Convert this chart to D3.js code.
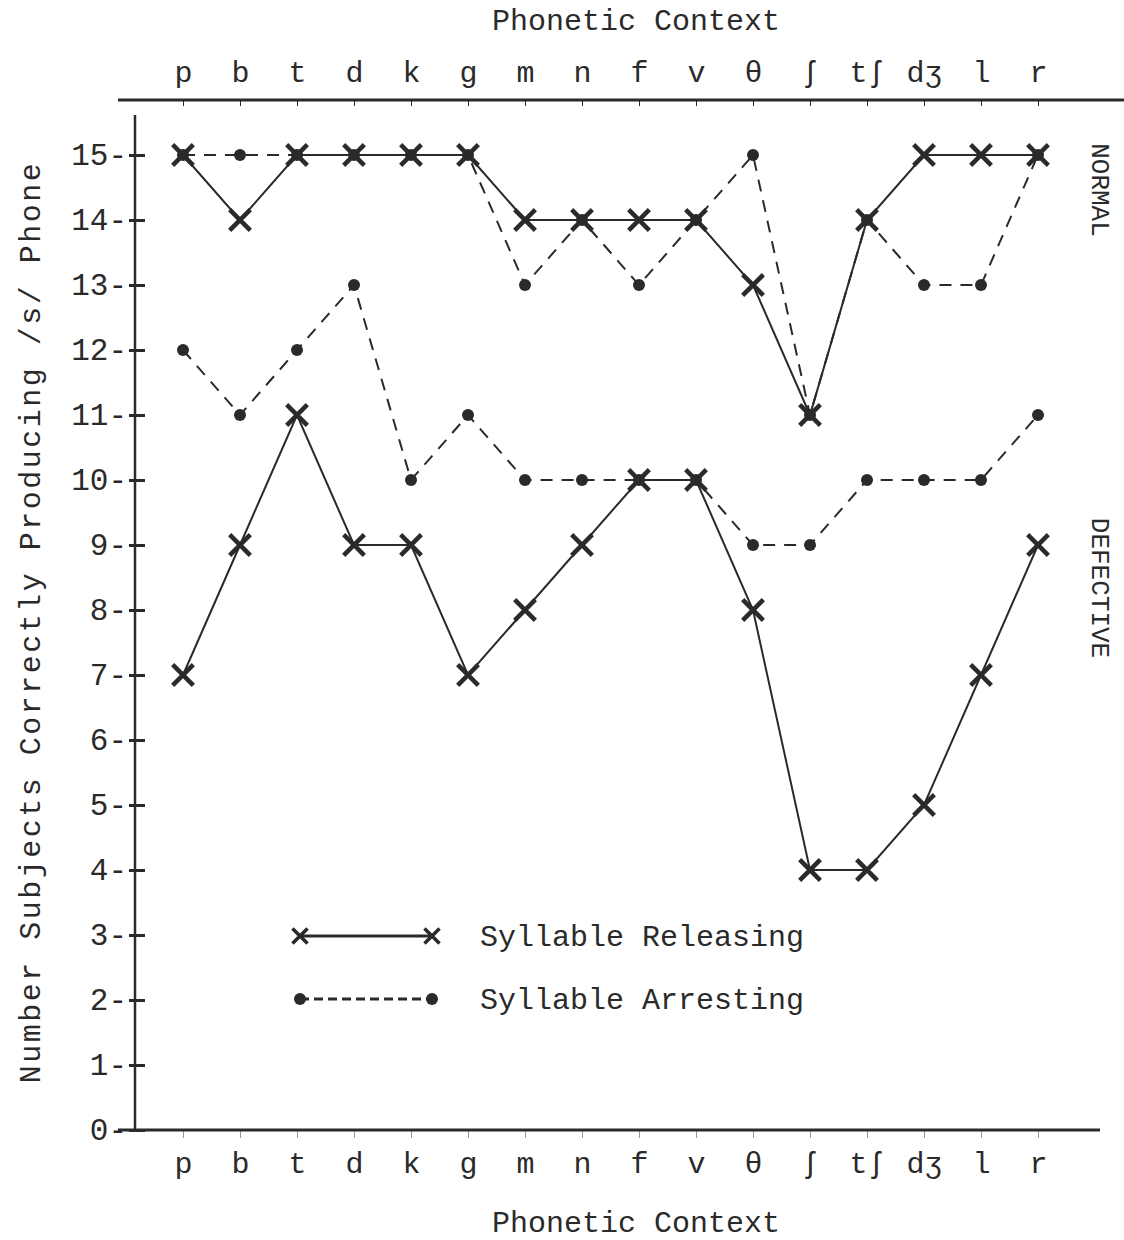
<!DOCTYPE html>
<html>
<head>
<meta charset="utf-8">
<script src="https://cdn.jsdelivr.net/npm/d3@7"></script>
<style>
  body { margin: 0; background: #fff; }
  svg text { font-family: "Liberation Mono", "DejaVu Sans Mono", monospace; fill: #2a2a2a; }
</style>
</head>
<body>
<div id="chart"></div>
<script>
const phones = ["p", "b", "t", "d", "k", "g", "m", "n", "f", "v", "θ", "ʃ", "tʃ", "dʒ", "l", "r"];
const yTicks = [0, 1, 2, 3, 4, 5, 6, 7, 8, 9, 10, 11, 12, 13, 14, 15];

// normal speakers
const normalReleasing = [15, 14, 15, 15, 15, 15, 14, 14, 14, 14, 13, 11, 14, 15, 15, 15];
const normalArresting = [15, 15, 15, 15, 15, 15, 13, 14, 13, 14, 15, 11, 14, 13, 13, 15];
// defective speakers
const defectiveReleasing = [7, 9, 11, 9, 9, 7, 8, 9, 10, 10, 8, 4, 4, 5, 7, 9];
const defectiveArresting = [12, 11, 12, 13, 10, 11, 10, 10, 10, 10, 9, 9, 10, 10, 10, 11];

const width = 1124, height = 1240;
const ink = "#2a2a2a";

const svg = d3.select("#chart")
    .append("svg")
    .attr("width", width)
    .attr("height", height);

const x = d3.scalePoint()
    .domain(phones)
    .range([183, 1038]);

const y = d3.scaleLinear()
    .domain([0, 15])
    .range([1130, 155]);

// top axis
const topAxis = svg.append("g")
    .attr("transform", "translate(0,100)")
    .call(d3.axisTop(x).tickSize(-6).tickSizeOuter(0).tickPadding(18));
topAxis.select(".domain").remove();
topAxis.append("line")
    .attr("x1", 118).attr("x2", 1124)
    .attr("stroke", ink).attr("stroke-width", 3);
topAxis.selectAll(".tick line").attr("stroke", ink).attr("stroke-width", 1);
topAxis.selectAll(".tick text").attr("font-size", 30).attr("fill", ink);

// bottom axis
const bottomAxis = svg.append("g")
    .attr("transform", "translate(0,1130)")
    .call(d3.axisBottom(x).tickSize(8).tickSizeOuter(0).tickPadding(14));
bottomAxis.select(".domain").remove();
bottomAxis.append("line")
    .attr("x1", 118).attr("x2", 1100)
    .attr("stroke", ink).attr("stroke-width", 3);
bottomAxis.selectAll(".tick line").attr("stroke", "#999").attr("stroke-width", 1);
bottomAxis.selectAll(".tick text").attr("font-size", 30).attr("fill", ink);

// left axis
const leftAxis = svg.append("g")
    .attr("transform", "translate(135,0)")
    .call(d3.axisLeft(y).tickValues(yTicks).tickFormat(d => d + "-").tickSize(6).tickPadding(2).tickSizeOuter(0));
leftAxis.select(".domain").remove();
leftAxis.append("line")
    .attr("y1", 115).attr("y2", 1132)
    .attr("stroke", ink).attr("stroke-width", 2.5);
leftAxis.selectAll(".tick line")
    .attr("x1", -6).attr("x2", 10)
    .attr("stroke", ink).attr("stroke-width", 3);
leftAxis.selectAll(".tick text").attr("font-size", 31).attr("fill", ink);

// titles
svg.append("text")
    .attr("x", 636).attr("y", 30)
    .attr("text-anchor", "middle")
    .attr("font-size", 30)
    .text("Phonetic Context");
svg.append("text")
    .attr("x", 636).attr("y", 1232)
    .attr("text-anchor", "middle")
    .attr("font-size", 30)
    .text("Phonetic Context");
svg.append("text")
    .attr("transform", "translate(40,622) rotate(-90)")
    .attr("text-anchor", "middle")
    .attr("font-size", 30)
    .attr("letter-spacing", 2.5)
    .text("Number Subjects Correctly Producing /s/ Phone");
svg.append("text")
    .attr("transform", "translate(1092,190) rotate(90)")
    .attr("text-anchor", "middle")
    .attr("font-size", 26)
    .text("NORMAL");
svg.append("text")
    .attr("transform", "translate(1092,588) rotate(90)")
    .attr("text-anchor", "middle")
    .attr("font-size", 26)
    .text("DEFECTIVE");

const line = d3.line()
    .x((d, i) => x(phones[i]))
    .y(d => y(d));

function drawReleasing(values) {
    svg.append("path")
        .datum(values)
        .attr("fill", "none")
        .attr("stroke", ink)
        .attr("stroke-width", 2)
        .attr("d", line);
    svg.append("g")
        .selectAll("path")
        .data(values)
        .join("path")
        .attr("transform", (d, i) => "translate(" + x(phones[i]) + "," + y(d) + ")")
        .attr("d", d3.symbol(d3.symbolX, 280))
        .attr("fill", "none")
        .attr("stroke", ink)
        .attr("stroke-width", 4.5);
}

function drawArresting(values) {
    svg.append("path")
        .datum(values)
        .attr("fill", "none")
        .attr("stroke", ink)
        .attr("stroke-width", 2)
        .attr("stroke-dasharray", "12,9")
        .attr("d", line);
    svg.append("g")
        .selectAll("circle")
        .data(values)
        .join("circle")
        .attr("cx", (d, i) => x(phones[i]))
        .attr("cy", d => y(d))
        .attr("r", 6)
        .attr("fill", ink);
}

drawArresting(normalArresting);
drawReleasing(normalReleasing);
drawArresting(defectiveArresting);
drawReleasing(defectiveReleasing);

// legend
const legend = svg.append("g");
legend.append("line")
    .attr("x1", 300).attr("x2", 432).attr("y1", 936).attr("y2", 936)
    .attr("stroke", ink).attr("stroke-width", 3);
legend.selectAll(".lx")
    .data([300, 432])
    .join("path")
    .attr("transform", d => "translate(" + d + ",936)")
    .attr("d", d3.symbol(d3.symbolX, 150))
    .attr("fill", "none")
    .attr("stroke", ink)
    .attr("stroke-width", 3.5);
legend.append("text")
    .attr("x", 480).attr("y", 946)
    .attr("font-size", 30)
    .text("Syllable Releasing");

legend.append("line")
    .attr("x1", 300).attr("x2", 432).attr("y1", 999).attr("y2", 999)
    .attr("stroke", ink).attr("stroke-width", 3)
    .attr("stroke-dasharray", "9,5");
legend.selectAll(".ld")
    .data([300, 432])
    .join("circle")
    .attr("cx", d => d).attr("cy", 999)
    .attr("r", 6)
    .attr("fill", ink);
legend.append("text")
    .attr("x", 480).attr("y", 1009)
    .attr("font-size", 30)
    .text("Syllable Arresting");
</script>
</body>
</html>
